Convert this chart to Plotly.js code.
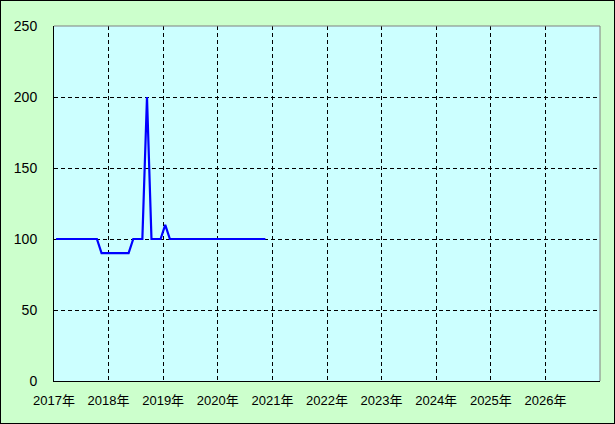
<!DOCTYPE html>
<html>
<head>
<meta charset="utf-8">
<script src="https://cdn.plot.ly/plotly-3.0.1.min.js"></script>
<style>
html,body{margin:0;padding:0;background:#fff;}
#chart{width:613px;height:422px;border:1px solid #000;}
</style>
</head>
<body>
<div id="chart"></div>
<script>
// Monthly values, 2017-01 .. 2020-11 (plotted mid-month)
const months = [
  "2017-01","2017-02","2017-03","2017-04","2017-05","2017-06","2017-07","2017-08","2017-09","2017-10","2017-11","2017-12",
  "2018-01","2018-02","2018-03","2018-04","2018-05","2018-06","2018-07","2018-08","2018-09","2018-10","2018-11","2018-12",
  "2019-01","2019-02","2019-03","2019-04","2019-05","2019-06","2019-07","2019-08","2019-09","2019-10","2019-11","2019-12",
  "2020-01","2020-02","2020-03","2020-04","2020-05","2020-06","2020-07","2020-08","2020-09","2020-10","2020-11"
];
const values = [
  100,100,100,100,100,100,100,100,100,100,90,90,
  90,90,90,90,90,100,100,100,200,100,100,100,
  110,100,100,100,100,100,100,100,100,100,100,100,
  100,100,100,100,100,100,100,100,100,100,100
];
const years = [2017,2018,2019,2020,2021,2022,2023,2024,2025,2026];
const yearLabels = years.map(y => y + "年");
const yTicks = [0,50,100,150,200,250];

const xDates = months.map(m => m + "-15");
const yearDates = years.map(y => y + "-01-01");

const fontFam = "Liberation Sans, Arial, 'Noto Sans CJK JP', sans-serif";

const trace = {
  x: xDates, y: values, type: "scatter", mode: "lines",
  line: {color: "#0000FF", width: 2.2},
  hoverinfo: "skip"
};

const layout = {
  width: 613, height: 422,
  margin: {l: 53, r: 14, t: 25, b: 42, pad: 0},
  paper_bgcolor: "#CCFFCC",
  plot_bgcolor: "#CCFFFF",
  showlegend: false,
  xaxis: {
    type: "date",
    range: ["2017-01-01", "2027-01-01"],
    tickmode: "array",
    tickvals: yearDates,
    ticktext: yearLabels,
    showgrid: true, gridcolor: "#000", griddash: "4px,3px", gridwidth: 1,
    showline: true, linecolor: "#000", linewidth: 1,
    zeroline: false, ticks: "",
    tickfont: {family: fontFam, size: 13, color: "#000"},
    ticklabelstandoff: 7,
    fixedrange: true
  },
  yaxis: {
    range: [0, 250],
    tickmode: "array",
    tickvals: yTicks,
    showgrid: true, gridcolor: "#000", griddash: "4px,3px", gridwidth: 1,
    showline: true, linecolor: "#000", linewidth: 1,
    zeroline: false, ticks: "",
    tickfont: {family: fontFam, size: 14, color: "#000"},
    ticklabelstandoff: 13,
    fixedrange: true
  },
  shapes: [
    {type: "line", xref: "paper", yref: "paper", x0: 0, x1: 1, y0: 1, y1: 1, line: {color: "#808080", width: 1}},
    {type: "line", xref: "paper", yref: "paper", x0: 1, x1: 1, y0: 0, y1: 1, line: {color: "#808080", width: 1}}
  ]
};

Plotly.newPlot("chart", [trace], layout, {staticPlot: true, displayModeBar: false});
</script>
</body>
</html>
